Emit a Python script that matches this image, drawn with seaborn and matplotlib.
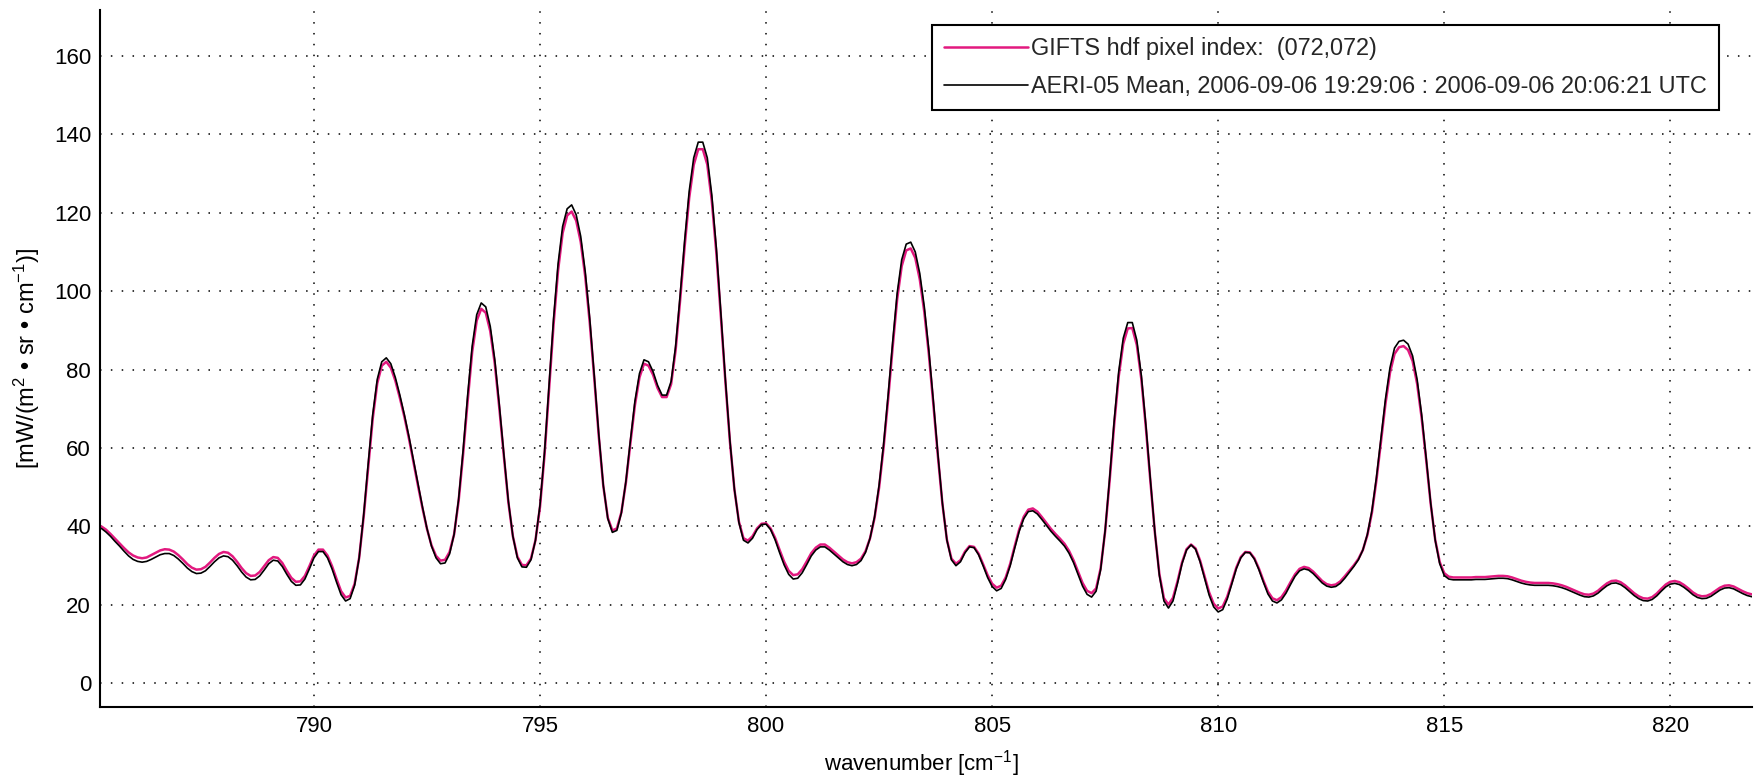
import numpy as np
import pandas as pd
import matplotlib
matplotlib.use("Agg")
import matplotlib.pyplot as plt
import seaborn as sns

# Spectral sampling grid [cm^-1], 0.1 cm^-1 steps
wn_first = 785.3
wn_last = 821.9

# AERI-05 mean radiance (black); each row covers 1 cm^-1 starting at x.3
aeri = [
    39.5, 38.6, 37.5, 36.2, 35.0, 33.7, 32.5, 31.6, 31.1, 30.9,
    31.1, 31.6, 32.2, 32.8, 33.1, 33.1, 32.6, 31.7, 30.6, 29.4,
    28.5, 28.0, 28.1, 28.7, 29.8, 31.0, 32.0, 32.5, 32.3, 31.4,
    30.0, 28.4, 27.1, 26.4, 26.5, 27.4, 28.9, 30.5, 31.4, 31.2,
    29.8, 27.8, 26.0, 25.0, 25.1, 26.6, 29.2, 32.0, 33.6, 33.6,
    32.0, 29.2, 25.8, 22.6, 21.0, 21.6, 25.0, 32.0, 43.0, 56.0,
    68.5, 77.5, 82.0, 83.0, 81.5, 78.0, 73.5, 68.5, 63.0, 57.0,
    51.0, 45.0, 39.5, 35.0, 32.0, 30.5, 30.7, 33.0, 38.0, 47.0,
    59.5, 73.5, 86.0, 94.0, 97.0, 96.0, 91.0, 82.5, 71.0, 58.5,
    46.5, 37.5, 32.0, 29.7, 29.6, 31.5, 36.5, 45.5, 59.0, 76.0,
    93.0, 107.0, 116.5, 121.0, 122.0, 119.5, 114.0, 105.0, 93.0, 78.5,
    63.5, 50.5, 42.0, 38.5, 39.0, 43.5, 51.5, 62.0, 72.0, 79.0,
    82.5, 82.0, 79.5, 76.0, 73.5, 73.5, 77.0, 86.0, 99.0, 113.0,
    125.5, 134.0, 138.0, 138.0, 134.0, 124.5, 111.0, 94.5, 77.5, 62.0,
    49.5, 41.0, 36.5, 35.8, 37.0, 39.2, 40.5, 40.6, 39.2, 36.6,
    33.3, 30.2, 27.8, 26.6, 26.8, 28.2, 30.3, 32.5, 34.0, 34.8,
    34.8, 34.0, 33.0, 32.0, 31.0, 30.3, 30.0, 30.3, 31.3, 33.4,
    37.0, 42.5, 50.5, 61.0, 73.5, 87.0, 99.5, 108.0, 112.0, 112.5,
    110.0, 104.5, 96.0, 85.0, 72.0, 58.5, 46.0, 36.5, 31.5, 30.0,
    31.0, 33.3, 34.8, 34.6, 32.8, 30.0, 27.0, 24.7, 23.6, 24.2,
    26.5, 30.0, 34.5, 38.8, 42.0, 43.8, 44.0, 43.2, 41.8, 40.3,
    38.8, 37.5, 36.3, 35.0, 33.2, 30.8, 27.8, 24.8, 22.7, 22.0,
    23.5, 29.0, 39.0, 52.5, 67.0, 79.5, 88.0, 92.0, 92.0, 87.5,
    78.5, 66.0, 52.0, 38.5, 27.5, 21.0, 19.2, 21.0, 25.5, 30.5,
    34.0, 35.3, 34.2, 31.0, 26.8, 22.5, 19.5, 18.2, 18.8, 21.5,
    25.3, 29.2, 32.0, 33.4, 33.3, 31.7, 29.0, 25.8, 22.8, 21.0,
    20.5, 21.3, 23.0, 25.2, 27.3, 28.7, 29.2, 28.9, 28.0, 26.8,
    25.6, 24.8, 24.5, 24.7, 25.5, 26.8, 28.3, 29.8, 31.5, 34.0,
    38.0, 44.0, 52.5, 62.5, 72.5, 80.5, 85.5, 87.2, 87.5, 86.5,
    83.5, 77.5, 68.5, 57.5, 46.0, 36.5, 30.5, 27.5, 26.6, 26.4,
    26.4, 26.4, 26.4, 26.4, 26.5, 26.5, 26.5, 26.6, 26.7, 26.8,
    26.8, 26.7, 26.4, 26.0, 25.6, 25.3, 25.1, 25.0, 25.0, 25.0,
    25.0, 24.9, 24.7, 24.4, 24.0, 23.5, 23.0, 22.5, 22.1, 22.0,
    22.3, 23.0, 24.0, 24.9, 25.5, 25.6, 25.2, 24.4, 23.4, 22.4,
    21.6, 21.1, 21.0, 21.4, 22.3, 23.5, 24.6, 25.3, 25.5, 25.2,
    24.5, 23.6, 22.6, 21.9, 21.6, 21.7, 22.2, 23.0, 23.8, 24.3,
    24.4, 24.1, 23.5, 22.9, 22.4, 22.1, 22.0,
]

# GIFTS pixel (072,072) radiance (magenta), same grid
gifts = [
    40.0, 39.2, 38.1, 36.9, 35.7, 34.5, 33.4, 32.6, 32.1, 31.9,
    32.1, 32.7, 33.3, 33.9, 34.2, 34.1, 33.6, 32.7, 31.6, 30.4,
    29.5, 29.0, 29.1, 29.7, 30.8, 32.0, 33.0, 33.5, 33.3, 32.4,
    31.0, 29.4, 28.1, 27.4, 27.5, 28.4, 29.9, 31.4, 32.2, 32.0,
    30.7, 28.7, 26.9, 25.9, 26.0, 27.4, 29.9, 32.6, 34.1, 34.1,
    32.6, 29.9, 26.6, 23.5, 21.9, 22.3, 25.4, 32.0, 42.5, 55.0,
    67.5, 76.5, 81.0, 82.0, 80.5, 77.2, 72.8, 68.0, 62.5, 56.5,
    50.5, 44.7, 39.4, 35.2, 32.5, 31.3, 31.5, 33.5, 38.0, 46.5,
    58.5, 72.0, 84.5, 92.5, 95.5, 94.5, 89.8, 81.5, 70.2, 58.0,
    46.2, 37.5, 32.3, 30.2, 30.1, 31.8, 36.5, 45.0, 58.2, 74.8,
    91.5, 105.3, 114.8, 119.3, 120.3, 118.0, 112.6, 103.8, 92.0, 77.8,
    63.0, 50.3, 42.2, 39.0, 39.5, 43.6, 51.2, 61.3, 71.0, 78.0,
    81.5, 81.0, 78.7, 75.3, 73.0, 73.0, 76.3, 85.0, 97.8, 111.5,
    123.8, 132.2, 136.2, 136.2, 132.3, 123.0, 109.8, 93.6, 77.0, 61.7,
    49.4, 41.2, 37.0, 36.4, 37.5, 39.5, 40.7, 40.8, 39.5, 37.1,
    34.0, 31.0, 28.7, 27.6, 27.8, 29.1, 31.1, 33.2, 34.6, 35.4,
    35.4, 34.6, 33.6, 32.6, 31.6, 30.9, 30.6, 30.9, 31.8, 33.7,
    37.0, 42.2, 49.9, 60.2, 72.4, 85.7, 98.0, 106.4, 110.4, 110.9,
    108.5, 103.0, 94.7, 84.0, 71.2, 58.0, 45.8, 36.6, 31.8, 30.5,
    31.4, 33.6, 35.0, 34.8, 33.1, 30.4, 27.6, 25.4, 24.4, 24.9,
    27.0, 30.5, 35.0, 39.3, 42.5, 44.3, 44.6, 43.8, 42.4, 40.9,
    39.4, 38.1, 36.9, 35.6, 33.8, 31.4, 28.5, 25.6, 23.6, 23.0,
    24.2, 29.3, 38.8, 51.8, 66.0, 78.3, 86.6, 90.5, 90.6, 86.3,
    77.6, 65.3, 51.6, 38.4, 27.8, 21.7, 20.1, 21.8, 26.0, 30.8,
    34.2, 35.4, 34.4, 31.3, 27.3, 23.2, 20.3, 19.1, 19.6, 22.1,
    25.7, 29.5, 32.2, 33.5, 33.4, 31.9, 29.3, 26.2, 23.4, 21.7,
    21.2, 22.0, 23.7, 25.8, 27.8, 29.2, 29.7, 29.4, 28.5, 27.3,
    26.1, 25.3, 25.0, 25.2, 26.0, 27.3, 28.7, 30.1, 31.7, 34.0,
    37.8, 43.5, 51.8, 61.5, 71.3, 79.2, 84.0, 85.7, 86.0, 85.0,
    82.2, 76.4, 67.7, 57.0, 45.8, 36.6, 30.9, 28.1, 27.2, 27.0,
    27.0, 27.0, 27.0, 27.0, 27.1, 27.1, 27.1, 27.2, 27.3, 27.4,
    27.4, 27.3, 27.0, 26.6, 26.2, 25.9, 25.7, 25.6, 25.6, 25.6,
    25.6, 25.5, 25.3, 25.0, 24.6, 24.1, 23.6, 23.1, 22.7, 22.6,
    22.9, 23.6, 24.6, 25.5, 26.1, 26.2, 25.8, 25.0, 24.0, 23.0,
    22.2, 21.7, 21.6, 22.0, 22.9, 24.1, 25.2, 25.9, 26.1, 25.8,
    25.1, 24.2, 23.2, 22.5, 22.2, 22.3, 22.8, 23.6, 24.4, 24.9,
    25.0, 24.7, 24.1, 23.5, 23.0, 22.7, 22.6,
]

series_names = ["GIFTS hdf pixel index:  (072,072)",
                "AERI-05 Mean, 2006-09-06 19:29:06 : 2006-09-06 20:06:21 UTC"]
series_colors = ["#e2197f", "#000000"]
series_widths = [1.8, 1.2]

x_ticks = [790, 795, 800, 805, 810, 815, 820]
y_ticks = [0, 20, 40, 60, 80, 100, 120, 140, 160]

wn = np.linspace(wn_first, wn_last, len(aeri))
df = pd.concat([
    pd.DataFrame({"wavenumber": wn, "radiance": gifts, "source": series_names[0]}),
    pd.DataFrame({"wavenumber": wn, "radiance": aeri, "source": series_names[1]}),
])

sns.set_theme(style="white")
plt.rcParams["font.family"] = ["Liberation Sans", "DejaVu Sans"]
plt.rcParams["mathtext.fontset"] = "custom"
plt.rcParams["mathtext.rm"] = "Liberation Sans"
plt.rcParams["mathtext.it"] = "Liberation Sans:italic"

fig = plt.figure(figsize=(17.59, 7.81), dpi=100)
ax = fig.add_axes([0.0569, 0.0944, 0.9392, 0.8928])

sns.lineplot(data=df, x="wavenumber", y="radiance", hue="source",
             hue_order=series_names, palette=series_colors,
             ax=ax, legend=False, estimator=None, sort=False)
for line, lw in zip(ax.get_lines(), series_widths):
    line.set_linewidth(lw)

ax.set_xlim(785.27, 821.81)
ax.set_ylim(-6.1, 171.7)
ax.set_xticks(x_ticks)
ax.set_yticks(y_ticks)
ax.set_axisbelow(True)
ax.grid(True, color="black", linewidth=1.1, linestyle=(0, (1, 6.1)))

for side in ["top", "right"]:
    ax.spines[side].set_visible(False)
for side in ["left", "bottom"]:
    ax.spines[side].set_color("black")
    ax.spines[side].set_linewidth(1.5)

ax.tick_params(axis="both", direction="in", length=12, width=1.5,
               colors="black", labelsize=16, pad=6.5)

ax.set_xlabel("wavenumber [cm$^{-1}$]", fontsize=16, color="black")
ax.set_ylabel("[mW/(m$^{2}$ • sr • cm$^{-1}$)]", fontsize=17, color="black")
ax.xaxis.set_label_coords(0.497, -0.058)
ax.yaxis.set_label_coords(-0.035, 0.5)

handles = [plt.Line2D([], [], color=c, linewidth=lw)
           for c, lw in zip(series_colors, series_widths)]
leg = ax.legend(handles, series_names, loc="upper right",
                bbox_to_anchor=(0.980, 0.9785), borderaxespad=0,
                fontsize=16.9, frameon=True, fancybox=False,
                handlelength=3.6, handletextpad=0.13, labelspacing=0.65,
                borderpad=0.5)
leg.get_frame().set_edgecolor("black")
leg.get_frame().set_linewidth(1.5)
leg.get_frame().set_facecolor("white")
leg.get_frame().set_alpha(1.0)

fig.savefig("out.png", dpi=100, facecolor="white")
